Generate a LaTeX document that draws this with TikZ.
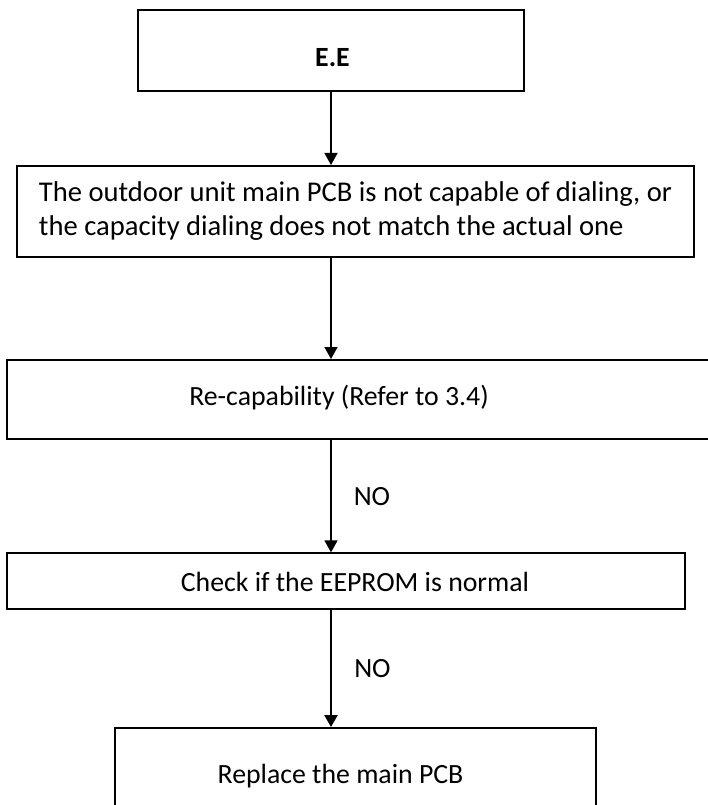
\documentclass[tikz,border=0pt]{standalone}
\usepackage{fontspec}
\setmainfont{Carlito}
\usetikzlibrary{arrows.meta}

\begin{document}
\begin{tikzpicture}[x=1pt, y=-1pt, >={Triangle[length=12pt, width=13pt]},
    box/.style={draw, line width=2pt, inner sep=0pt},
    txt/.style={font=\fontsize{27.8}{34}\selectfont, inner sep=0pt},
    link/.style={->, line width=1.5pt}]
    % Page frame
    \useasboundingbox (0,0) rectangle (708,805);

    % Boxes
    \node[box, txt, font=\fontsize{28.6}{34}\selectfont, minimum width=677, minimum height=91,
          align=left] (fault) at (355.5,211.5)
        {The outdoor unit main PCB is not capable of dialing, or\\
         the capacity dialing does not match the actual one};
    \node[box, minimum width=386, minimum height=81] (ee) at (331,50.5) {};
    \node[box, minimum width=713, minimum height=79] (recap) at (363.5,399.5) {};
    \node[box, line width=1.3pt, minimum width=678, minimum height=56] (check) at (346,581) {};
    \node[box, minimum width=481, minimum height=102] (pcb) at (355.5,779) {};

    % Box texts
    \node[txt, font=\fontsize{27.8}{34}\selectfont\bfseries] (eetxt) at (332.5,57.5) {E.E};
    \node[txt] (recaptxt) at (339,398) {Re-capability (Refer to 3.4)};
    \node[txt] (checktxt) at (355,582) {Check if the EEPROM is normal};
    \node[txt] (pcbtxt) at (340.5,776) {Replace the main PCB};

    % Arrows
    \draw[link] (ee.south) -- (ee.south |- fault.north);
    \draw[link] (ee.south |- fault.south) -- (ee.south |- recap.north);
    \draw[link] (ee.south |- recap.south) -- node[midway, right=22pt, txt] (no1) {NO}
        (ee.south |- check.north);
    \draw[link, line width=2.5pt] (ee.south |- check.south) -- node[midway, right=22pt, txt] (no2) {NO}
        (ee.south |- pcb.north);
\end{tikzpicture}
\end{document}
